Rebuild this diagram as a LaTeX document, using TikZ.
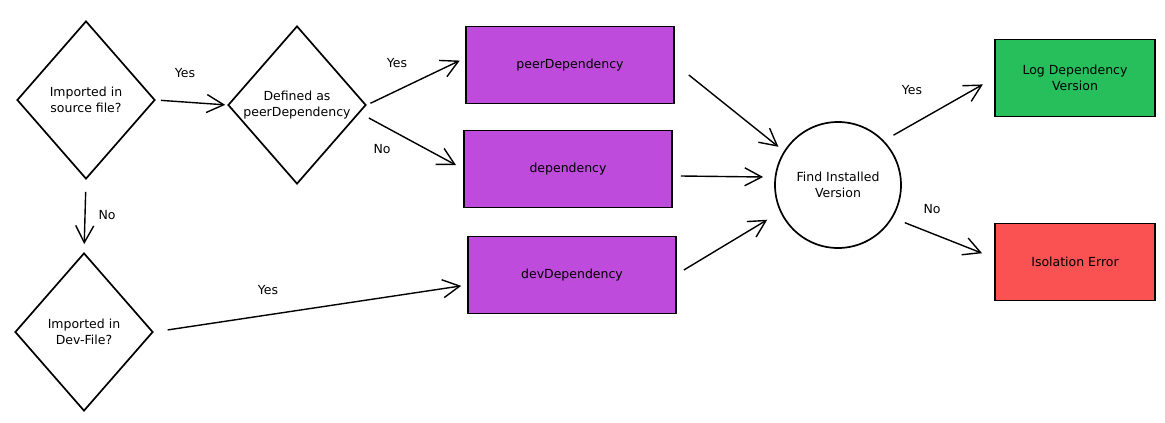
\documentclass[tikz,border=0pt]{standalone}
\usepackage{fontspec}
\setmainfont{DejaVu Sans}
\usetikzlibrary{shapes.geometric,arrows.meta}
\definecolor{purp}{HTML}{BE4BDB}
\definecolor{grn}{HTML}{26BF5C}
\definecolor{rd}{HTML}{FA5252}
\tikzset{
  base/.style={draw=black, line width=1.7pt, font=\fontsize{12.5}{16.5}\selectfont, align=center, inner sep=0pt},
  dia/.style={base, diamond, minimum width=138pt, minimum height=158pt, shape aspect=0.87},
  boxp/.style={base, rectangle, fill=purp, minimum width=208pt, minimum height=77pt},
  boxr/.style={base, rectangle, minimum width=160pt, minimum height=77pt},
  circ/.style={base, circle, minimum size=126pt},
  arr/.style={line width=1.4pt, -{Straight Barb[length=17pt,width=18pt,line width=1.4pt]}},
  lbl/.style={font=\fontsize{12.5}{14}\selectfont, inner sep=0pt}
}
\begin{document}
\begin{tikzpicture}[x=1pt,y=-1pt]
\useasboundingbox (0,0) rectangle (1165,423);
\node[dia] (d1) at (86,100) {Imported in\\source file?};
\node[dia] (d2) at (297,105) {Defined as\\peerDependency};
\node[dia] (d3) at (84,332) {Imported in\\Dev-File?};
\node[boxp] (peer) at (570,65) {peerDependency};
\node[boxp] (dep) at (568,169) {dependency};
\node[boxp] (dev) at (572,275) {devDependency};
\node[circ] (fiv) at (838,185) {Find Installed\\Version};
\node[boxr, fill=grn] (log) at (1075,78) {Log Dependency\\Version};
\node[boxr, fill=rd] (err) at (1075,262) {Isolation Error};

\draw[arr, shorten <=5pt, shorten >=2pt] (d1.east) -- (d2.west);
\draw[arr, shorten <=4pt, shorten >=6pt] (d2.east) -- ([yshift=7pt]peer.west);
\draw[arr, shorten >=8pt] ([xshift=2pt,yshift=-13pt]d2.east) -- (dep.west);
\draw[arr, shorten <=12pt, shorten >=8pt] (d1.south) -- (d3.north);
\draw[arr, shorten <=14pt, shorten >=6pt] (d3.east) -- ([yshift=-10pt]dev.west);
\draw[arr, shorten >=7pt] ([xshift=14pt,yshift=-10pt]peer.east) -- (fiv.148);
\draw[arr] ([xshift=8pt,yshift=-7pt]dep.east) -- ([xshift=-11pt,yshift=8pt]fiv.west);
\draw[arr, shorten >=15pt] ([xshift=7pt,yshift=5pt]dev.east) -- (fiv.205);
\draw[arr, shorten <=11pt, shorten >=13pt] (fiv.44) -- (log.west);
\draw[arr, shorten <=13pt, shorten >=13pt] (fiv.-31) -- ([yshift=4pt]err.west);

\node[lbl] (l1) at (185,73) {Yes};
\node[lbl] (l2) at (397,63) {Yes};
\node[lbl] (l3) at (382,149) {No};
\node[lbl] (l4) at (107,215) {No};
\node[lbl] (l5) at (268,290) {Yes};
\node[lbl] (l6) at (912,90) {Yes};
\node[lbl] (l7) at (932,209) {No};
\end{tikzpicture}
\end{document}
